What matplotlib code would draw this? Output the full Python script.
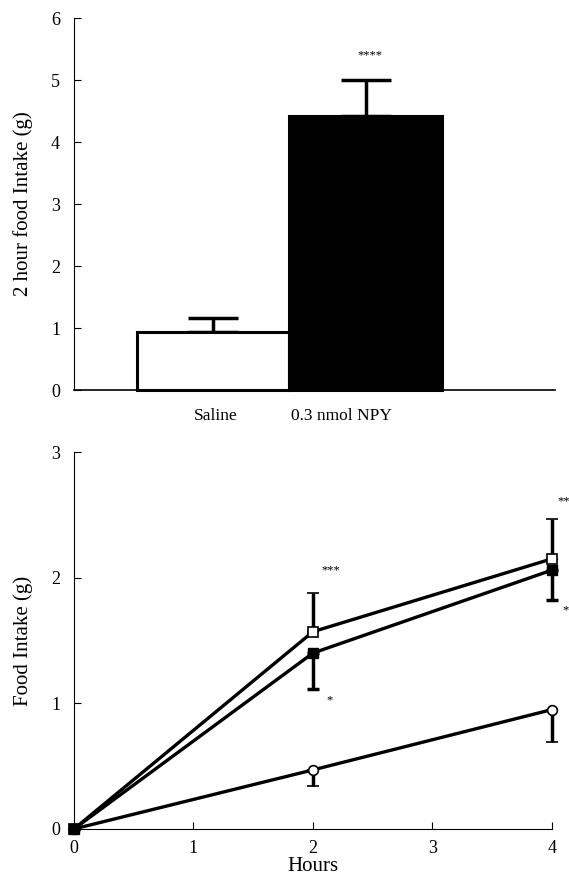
import numpy as np
import matplotlib
matplotlib.use("Agg")
import matplotlib.pyplot as plt

plt.rcParams['font.family'] = ['Liberation Serif', 'DejaVu Serif']

# top panel: 2 hour intake
groups = ["Saline", "0.3 nmol NPY"]
bar_means = [0.94, 4.42]
bar_sem = [0.22, 0.58]
bar_colors = ["white", "black"]

# bottom panel: time course
hours = [0, 2, 4]
open_sq = [0, 1.57, 2.15]
open_sq_up = [0, 0.31, 0.32]
filled_sq = [0, 1.40, 2.06]
filled_sq_down = [0, 0.29, 0.24]
circle = [0, 0.47, 0.95]
circle_down = [0, 0.13, 0.26]

fig = plt.figure(figsize=(5.69, 8.83), dpi=100)

# ---- top
ax1 = fig.add_axes([0.130, 0.5583, 0.845, 0.4213])
x = np.arange(len(groups))
ax1.bar(x, bar_means, width=1.0, color=bar_colors, edgecolor="black",
        linewidth=2.2, zorder=3, clip_on=False)
ax1.errorbar(x, bar_means, yerr=[[0, 0], bar_sem], fmt="none", ecolor="black",
             elinewidth=2.5, capsize=18, capthick=2.5, zorder=2)
ax1.set_xlim(-0.91, 2.24)
ax1.set_ylim(0, 6)
ax1.set_yticks(range(7))
ax1.set_xticks([])
ax1.spines['top'].set_visible(False)
ax1.spines['right'].set_visible(False)
ax1.spines['left'].set_linewidth(0.8)
ax1.spines['bottom'].set_linewidth(1.2)
ax1.tick_params(axis='y', direction='in', length=5, width=0.8, labelsize=13, pad=10)
ax1.set_ylabel("2 hour food Intake (g)", fontsize=15, labelpad=13)
ax1.text(0.02, -0.42, groups[0], ha='center', va='center', fontsize=12.5)
ax1.text(0.84, -0.42, groups[1], ha='center', va='center', fontsize=12.5)
ax1.text(1.03, 5.4, "****", ha='center', va='center', fontsize=9)

# ---- bottom
ax2 = fig.add_axes([0.130, 0.0612, 0.840, 0.4269])
lw = 2.4
style = dict(color="black", lw=lw, ms=7, mec="black", elinewidth=2.5,
             capsize=4, capthick=2.5, clip_on=False)
c1 = ax2.errorbar(hours, circle, yerr=[circle_down, [0, 0, 0]],
                  marker="o", mfc="white", mew=1.2, **style)
c2 = ax2.errorbar(hours, open_sq, yerr=[[0, 0, 0], open_sq_up],
                  marker="s", mfc="white", mew=1.2, **style)
c3 = ax2.errorbar(hours, filled_sq, yerr=[filled_sq_down, [0, 0, 0]],
                  marker="s", mfc="black", **style)
for c in (c1, c2, c3):
    for art in c.lines[1] + c.lines[2]:
        art.set_clip_on(False)
ax2.set_xlim(0, 4)
ax2.set_ylim(0, 3)
ax2.set_xticks(range(5))
ax2.set_yticks(range(4))
ax2.spines['top'].set_visible(False)
ax2.spines['right'].set_visible(False)
ax2.spines['left'].set_linewidth(0.8)
ax2.spines['bottom'].set_linewidth(0.8)
ax2.tick_params(direction='in', length=5, width=0.8, labelsize=13)
ax2.tick_params(axis='y', pad=10)
ax2.tick_params(axis='x', pad=8)
ax2.set_ylabel("Food Intake (g)", fontsize=15, labelpad=13)
ax2.set_xlabel("Hours", fontsize=15, labelpad=0)
ax2.text(2.15, 2.06, "***", ha='center', va='center', fontsize=9)
ax2.text(2.14, 1.02, "*", ha='center', va='center', fontsize=9)
ax2.text(4.1, 2.61, "**", ha='center', va='center', fontsize=9)
ax2.text(4.11, 1.74, "*", ha='center', va='center', fontsize=9)

fig.savefig("out.png", dpi=100)
